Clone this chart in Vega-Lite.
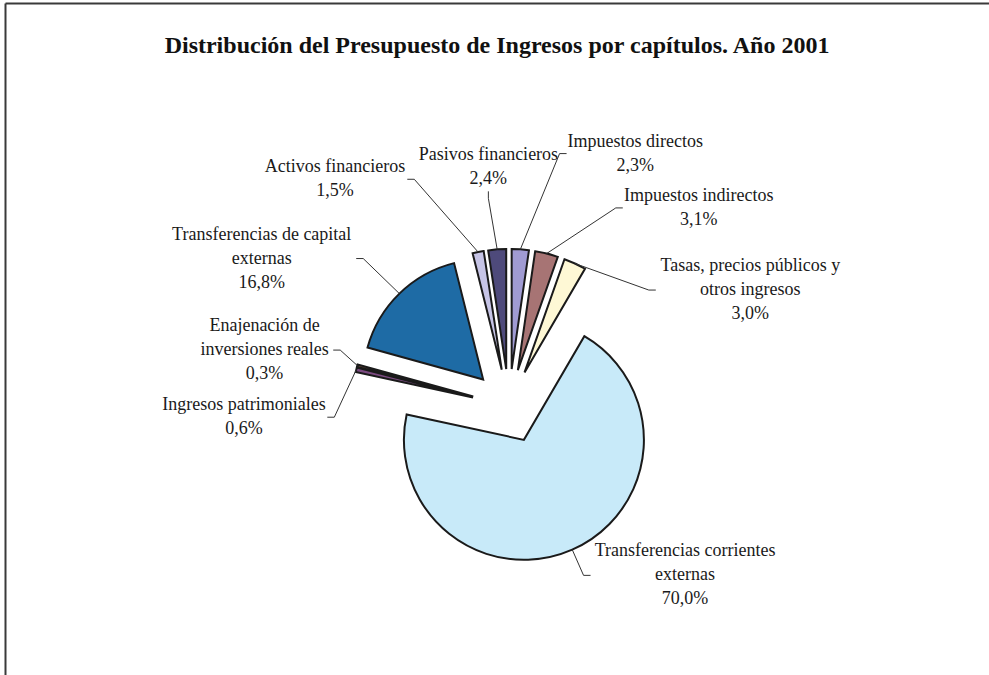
{
  "$schema": "https://vega.github.io/schema/vega-lite/v6.json",
  "width": 984,
  "height": 672,
  "autosize": "none",
  "padding": {"left": 5, "top": 3, "right": 0, "bottom": 0},
  "background": "white",
  "title": {
    "text": "Distribución del Presupuesto de Ingresos por capítulos. Año 2001",
    "anchor": "middle",
    "frame": "group",
    "offset": -74,
    "baseline": "alphabetic",
    "font": "Liberation Serif",
    "fontSize": 24,
    "fontWeight": "bold",
    "color": "#111111"
  },
  "config": {
    "view": {"stroke": null},
    "axis": {"domainColor": "#3a3a3a", "domainWidth": 2}
  },
  "data": {
    "values": [
      {"capitulo": 1, "cap": "Impuestos directos", "pct": 2.3},
      {"capitulo": 2, "cap": "Impuestos indirectos", "pct": 3.1},
      {"capitulo": 3, "cap": "Tasas, precios públicos y\notros ingresos", "pct": 3.0},
      {"capitulo": 4, "cap": "Transferencias corrientes\nexternas", "pct": 70.0},
      {"capitulo": 5, "cap": "Ingresos patrimoniales", "pct": 0.6},
      {"capitulo": 6, "cap": "Enajenación de\ninversiones reales", "pct": 0.3},
      {"capitulo": 7, "cap": "Transferencias de capital\nexternas", "pct": 16.8},
      {"capitulo": 8, "cap": "Activos financieros", "pct": 1.5},
      {"capitulo": 9, "cap": "Pasivos financieros", "pct": 2.4}
    ]
  },
  "transform": [
    {"calculate": "split(datum.cap, '\\n')", "as": "lines"},
    {"calculate": "length(datum.lines) + 1", "as": "nl"},
    {"calculate": "max(length(datum.lines[0]), length(datum.lines) > 1 ? length(datum.lines[1]) : 0, 6) * 7.4", "as": "w"},
    {"calculate": "datum.nl * 24 - 6", "as": "h"},
    {"window": [{"op": "sum", "field": "pct", "as": "a1"}], "sort": [{"field": "capitulo", "order": "ascending"}], "frame": [null, 0]},
    {"calculate": "datum.a1 - datum.pct", "as": "a0"},
    {"calculate": "(datum.a0 + datum.a1) * 1.8", "as": "mid"},
    {"joinaggregate": [{"op": "argmax", "field": "pct", "as": "mayor"}]},
    {"calculate": "datum.mayor.mid + ((datum.mid - datum.mayor.mid + 360) % 360)", "as": "u"},
    {"window": [{"op": "lag", "field": "nl", "as": "nlprev"}], "sort": [{"field": "u", "order": "ascending"}]},
    {"calculate": "datum.nlprev == null ? 0 : 5 * (datum.nlprev + datum.nl) - 3", "as": "gap"},
    {"window": [{"op": "sum", "field": "gap", "as": "S"}], "sort": [{"field": "u", "order": "ascending"}], "frame": [null, 0]},
    {"calculate": "datum.u - datum.S", "as": "av"},
    {"window": [{"op": "max", "field": "av", "as": "fmax"}], "sort": [{"field": "u", "order": "ascending"}], "frame": [null, 0]},
    {"window": [{"op": "min", "field": "av", "as": "bmin"}], "sort": [{"field": "u", "order": "ascending"}], "frame": [0, null]},
    {"calculate": "(datum.S + 0.6 * datum.fmax + 0.4 * datum.bmin) * PI / 180", "as": "tl"},
    {"calculate": "sin(datum.tl)", "as": "s"},
    {"calculate": "cos(datum.tl)", "as": "c"},
    {"calculate": "datum.s > 0.1 ? 'R' : (datum.s < -0.3 ? 'L' : 'T')", "as": "modo"},
    {"calculate": "datum.c <= 0 ? 175 + 12 * datum.c * datum.c : (datum.modo == 'R' ? 165 + 100 * pow(datum.c, 4) : 175 + 90 * pow(datum.c, 3) - (datum.modo == 'T' ? 55 : 0))", "as": "rl"},
    {"calculate": "datum.rl * datum.s", "as": "ax"},
    {"calculate": "datum.rl * datum.c", "as": "ay"},
    {"calculate": "datum.ax + (datum.modo == 'R' ? 7 : (datum.modo == 'L' ? -7 : 0))", "as": "tx"},
    {"calculate": "datum.ay + (datum.modo == 'T' ? 7 : 0)", "as": "ty"},
    {"calculate": "datum.modo == 'R' ? datum.tx + 2 + datum.w / 2 : (datum.modo == 'L' ? datum.tx - 2 - datum.w / 2 : datum.tx)", "as": "lx"},
    {"calculate": "(datum.modo == 'T' ? datum.ty + 3 + datum.h / 2 : datum.ty) + (datum.nl - 1) * 12", "as": "ly"},
    {"calculate": "datum.cap + '\\n' + replace(format(datum.pct, '.1f'), '.', ',') + '%'", "as": "etiqueta"},
    {"calculate": "datum.mid * PI / 180", "as": "mr"},
    {"calculate": "37 * sin(datum.mr)", "as": "ex"},
    {"calculate": "37 * cos(datum.mr)", "as": "ey"},
    {"calculate": "157 * sin(datum.mr)", "as": "px"},
    {"calculate": "157 * cos(datum.mr)", "as": "py"}
  ],
  "layer": [
    {
      "mark": {"type": "arc", "radius": 120, "stroke": "#1a1a1a", "strokeWidth": 2, "strokeJoin": "miter"},
      "encoding": {
        "x": {"field": "ex", "type": "quantitative", "scale": {"domain": [-504, 480], "nice": false, "zero": false}, "axis": {"orient": "top", "ticks": false, "labels": false, "grid": false, "title": null}},
        "y": {"field": "ey", "type": "quantitative", "scale": {"domain": [-269, 403], "nice": false, "zero": false}, "axis": {"orient": "left", "ticks": false, "labels": false, "grid": false, "title": null}},
        "theta": {"field": "a0", "type": "quantitative", "stack": null, "scale": {"domain": [0, 100], "range": [0, 6.283185307179586]}},
        "theta2": {"field": "a1"},
        "color": {
          "field": "cap", "type": "nominal", "legend": null,
          "scale": {
            "domain": ["Impuestos directos", "Impuestos indirectos", "Tasas, precios públicos y\notros ingresos", "Transferencias corrientes\nexternas", "Ingresos patrimoniales", "Enajenación de\ninversiones reales", "Transferencias de capital\nexternas", "Activos financieros", "Pasivos financieros"],
            "range": ["#A09BD3", "#A77474", "#FEF8D5", "#C8EAF9", "#7B4A80", "#F08A60", "#1E6BA5", "#C6C4E6", "#4E4A7B"]
          }
        }
      }
    },
    {
      "mark": {"type": "rule", "color": "#333333", "strokeWidth": 1},
      "encoding": {
        "x": {"field": "px", "type": "quantitative", "axis": {"orient": "top", "ticks": false, "labels": false, "grid": false, "title": null}},
        "y": {"field": "py", "type": "quantitative", "axis": {"orient": "left", "ticks": false, "labels": false, "grid": false, "title": null}},
        "x2": {"field": "ax"},
        "y2": {"field": "ay"}
      }
    },
    {
      "mark": {"type": "rule", "color": "#333333", "strokeWidth": 1},
      "encoding": {
        "x": {"field": "ax", "type": "quantitative", "axis": {"orient": "top", "ticks": false, "labels": false, "grid": false, "title": null}},
        "y": {"field": "ay", "type": "quantitative", "axis": {"orient": "left", "ticks": false, "labels": false, "grid": false, "title": null}},
        "x2": {"field": "tx"},
        "y2": {"field": "ty"}
      }
    },
    {
      "mark": {"type": "text", "font": "Liberation Serif", "fontSize": 18, "lineHeight": 24, "lineBreak": "\n", "align": "center", "baseline": "middle", "color": "#1a1a1a"},
      "encoding": {
        "x": {"field": "lx", "type": "quantitative", "axis": {"orient": "top", "ticks": false, "labels": false, "grid": false, "title": null}},
        "y": {"field": "ly", "type": "quantitative", "axis": {"orient": "left", "ticks": false, "labels": false, "grid": false, "title": null}},
        "text": {"field": "etiqueta", "type": "nominal"}
      }
    }
  ]
}
